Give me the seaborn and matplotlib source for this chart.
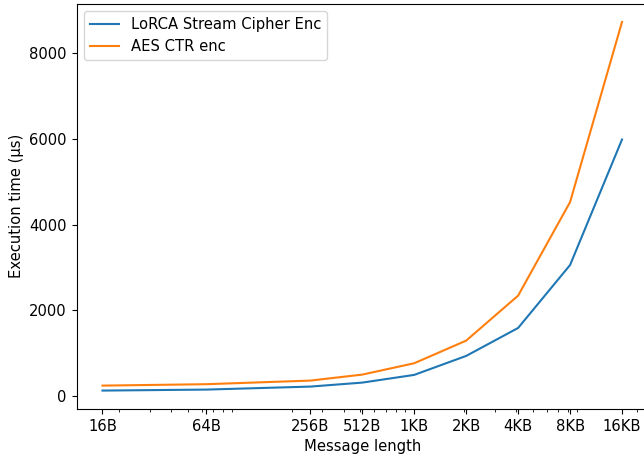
import matplotlib
matplotlib.use("Agg")
import matplotlib.pyplot as plt
from matplotlib.ticker import NullFormatter
import seaborn as sns
import pandas as pd

# Message sizes in bytes
sizes = [16, 64, 256, 512, 1024, 2048, 4096, 8192, 16384]
size_labels = ["16B", "64B", "256B", "512B", "1KB", "2KB", "4KB", "8KB", "16KB"]

# Execution times in microseconds
lorca_enc = [124, 147, 217, 310, 490, 933, 1586, 3055, 5985]
aes_ctr_enc = [240, 273, 357, 497, 762, 1290, 2340, 4524, 8730]

df = pd.DataFrame({
    "size": sizes * 2,
    "time": lorca_enc + aes_ctr_enc,
    "series": ["LoRCA Stream Cipher Enc"] * len(sizes) + ["AES CTR enc"] * len(sizes),
})

plt.rcParams["font.size"] = 10.6

fig = plt.figure(figsize=(6.44, 4.62), dpi=100)
ax = fig.add_axes([0.1188, 0.1147, 0.8874, 0.8777])

for name, color in [("LoRCA Stream Cipher Enc", "#1f77b4"), ("AES CTR enc", "#ff7f0e")]:
    sub = df[df["series"] == name]
    sns.lineplot(data=sub, x="size", y="time", ax=ax, color=color,
                 label=name, linewidth=1.5)

ax.set_xscale("log")
ax.set_xticks(sizes)
ax.set_xticklabels(size_labels)
ax.xaxis.set_minor_formatter(NullFormatter())
ax.set_xlabel("Message length")
ax.set_ylabel("Execution time (µs)")
ax.legend(loc="upper left")

fig.savefig("out.png", dpi=100)
